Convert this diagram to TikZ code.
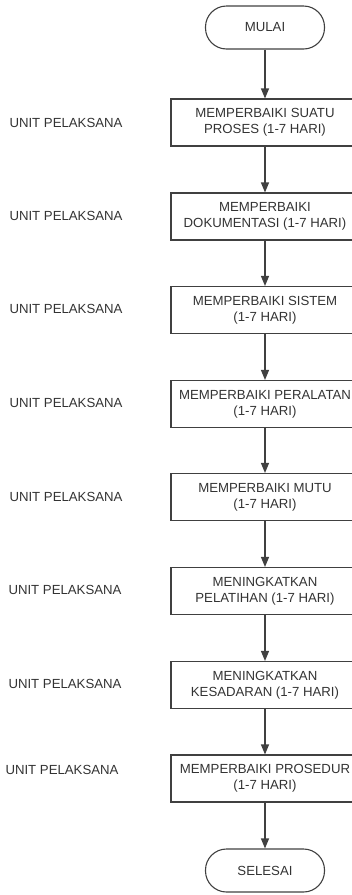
\documentclass[tikz,border=0pt]{standalone}
\usepackage{fontspec}
\setmainfont{Liberation Sans}
\usepackage{xcolor}
\usetikzlibrary{positioning,arrows.meta}

\definecolor{linegray}{HTML}{404040}
\definecolor{textgray}{HTML}{333333}

\tikzset{
    terminal/.style={draw=linegray, line width=1.1pt, rounded corners=21pt,
        minimum width=119pt, minimum height=43pt, inner sep=0pt,
        text=textgray, font=\fontsize{13.2}{16}\selectfont},
    stepbox/.style={draw=linegray, line width=1.1pt,
        minimum width=188pt, minimum height=47pt, inner sep=0pt,
        align=center, text=textgray, font=\fontsize{13.2}{16}\selectfont},
    unitlabel/.style={text=textgray, font=\fontsize{13.2}{16}\selectfont},
    flow/.style={draw=linegray, line width=1.1pt,
        -{Triangle[width=8pt,length=10pt]}}
}

\begin{document}
\begin{tikzpicture}[x=1pt,y=-1pt]
    \useasboundingbox (0,0) rectangle (352,895);
    \clip (0,0) rectangle (352,895);

    % Start and end
    \node[terminal] (mulai) at (265,27.5) {MULAI};
    \node[terminal] (selesai) at (265,870.5) {SELESAI};

    % Steps
    \node[stepbox] (s1) at (265,122.5) {MEMPERBAIKI SUATU\\PROSES (1-7 HARI)};
    \node[stepbox] (s2) at (265,216.5) {MEMPERBAIKI\\DOKUMENTASI (1-7 HARI)};
    \node[stepbox] (s3) at (265,310) {MEMPERBAIKI SISTEM\\(1-7 HARI)};
    \node[stepbox] (s4) at (265,404) {MEMPERBAIKI PERALATAN\\(1-7 HARI)};
    \node[stepbox] (s5) at (265,497) {MEMPERBAIKI MUTU\\(1-7 HARI)};
    \node[stepbox] (s6) at (265,591) {MENINGKATKAN\\PELATIHAN (1-7 HARI)};
    \node[stepbox] (s7) at (265,685) {MENINGKATKAN\\KESADARAN (1-7 HARI)};
    \node[stepbox] (s8) at (265,778.5) {MEMPERBAIKI PROSEDUR\\(1-7 HARI)};

    % Unit labels
    \node[unitlabel] (u1) at (66,123) {UNIT PELAKSANA};
    \node[unitlabel] (u2) at (66,216) {UNIT PELAKSANA};
    \node[unitlabel] (u3) at (66,309) {UNIT PELAKSANA};
    \node[unitlabel] (u4) at (66,403) {UNIT PELAKSANA};
    \node[unitlabel] (u5) at (66,497) {UNIT PELAKSANA};
    \node[unitlabel] (u6) at (65,590) {UNIT PELAKSANA};
    \node[unitlabel] (u7) at (65,684) {UNIT PELAKSANA};
    \node[unitlabel] (u8) at (62,770) {UNIT PELAKSANA};

    % Flow
    \draw[flow] (mulai) -- (s1);
    \foreach \a/\b in {s1/s2,s2/s3,s3/s4,s4/s5,s5/s6,s6/s7,s7/s8}
        \draw[flow] (\a) -- (\b);
    \draw[flow] (s8) -- (selesai);

\end{tikzpicture}
\end{document}
